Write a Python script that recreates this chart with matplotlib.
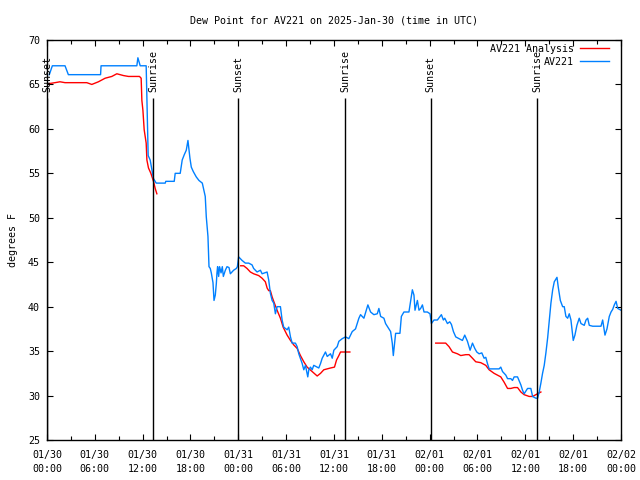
import pandas as pd
import numpy as np
import matplotlib
matplotlib.use('Agg')
import matplotlib.pyplot as plt
import matplotlib.dates as mdates

plt.rcParams['font.family'] = 'DejaVu Sans Mono'
plt.rcParams['font.size'] = 7.2

start = pd.Timestamp('2025-01-30 00:00')

# observed dew point (hours since start, deg F)
obs_hours = [0.29, 0.67, 2.26, 2.68, 6.72, 6.78, 11.27, 11.40, 11.60, 11.69, 12.44, 12.53, 12.60,
             12.69, 12.94, 13.36, 13.70, 14.83, 14.90, 15.96, 16.08, 16.71, 16.96, 17.22, 17.47,
             17.68, 17.93, 18.10, 18.35, 18.72, 19.06, 19.48, 19.73, 19.85, 19.98, 20.19, 20.32,
             20.48, 20.61, 20.82, 20.90, 20.95, 21.11, 21.24, 21.32, 21.40, 21.53, 21.65, 21.83,
             21.99, 22.12, 22.37, 22.58, 22.83, 23.00, 23.41, 23.75, 23.88, 24.04, 24.47, 24.88,
             25.30, 25.72, 25.92, 26.35, 26.77, 26.98, 27.61, 27.81, 28.02, 28.24, 28.44, 28.65,
             28.86, 29.28, 29.49, 29.69, 30.12, 30.32, 30.54, 30.75, 31.16, 31.38, 31.58, 32.01,
             32.21, 32.42, 32.71, 32.84, 33.05, 33.26, 33.46, 34.09, 34.31, 34.52, 34.93, 35.15,
             35.56, 35.78, 35.98, 36.40, 36.61, 37.03, 37.45, 37.86, 38.29, 38.70, 39.12, 39.33,
             39.75, 40.25, 40.59, 41.00, 41.43, 41.63, 41.85, 42.26, 42.47, 42.89, 43.10, 43.31,
             43.44, 43.60, 43.73, 44.27, 44.45, 44.77, 45.40, 45.61, 45.83, 46.03, 46.16, 46.46,
             46.66, 46.87, 47.09, 47.29, 47.71, 48.04, 48.22, 48.54, 48.97, 49.47, 49.72, 49.89,
             50.23, 50.52, 50.73, 50.98, 51.27, 51.68, 52.11, 52.40, 52.74, 53.07, 53.37, 53.66,
             53.91, 54.20, 54.54, 54.83, 55.04, 55.25, 55.46, 56.71, 56.92, 57.14, 57.55, 57.77,
             58.18, 58.39, 58.60, 59.02, 59.44, 59.65, 59.85, 60.28, 60.69, 60.91, 61.32, 61.54,
             61.74, 61.95, 62.16, 62.37, 62.58, 62.80, 63.00, 63.21, 63.43, 63.63, 63.97, 64.13,
             64.39, 64.68, 64.88, 65.09, 65.31, 65.51, 65.72, 66.01, 66.22, 66.47, 66.76, 66.98,
             67.39, 67.61, 67.82, 68.02, 68.45, 69.49, 69.70, 69.99, 70.24, 70.53, 70.75, 70.96,
             71.16, 71.38, 71.59, 72.00]
obs_dewpt = [66.1, 67.1, 67.1, 66.1, 66.1, 67.1, 67.1, 68.0, 67.4, 67.1, 67.1, 63.6, 61.0,
             57.0, 56.5, 54.4, 53.9, 53.9, 54.1, 54.1, 55.0, 55.0, 56.5, 57.1, 57.6,
             58.7, 56.7, 55.7, 55.2, 54.6, 54.2, 53.9, 52.9, 52.4, 50.1, 47.9, 44.5,
             44.3, 43.8, 42.7, 41.5, 40.7, 41.3, 42.6, 43.8, 44.5, 43.4, 44.5, 43.8,
             44.5, 43.4, 44.1, 44.5, 44.4, 43.7, 44.1, 44.3, 44.5, 45.6, 45.2, 44.9,
             44.9, 44.7, 44.3, 43.9, 44.1, 43.7, 43.9, 43.0, 41.5, 40.7, 40.4, 39.2,
             40.0, 40.0, 38.5, 37.7, 37.4, 37.7, 36.6, 35.9, 35.9, 35.5, 34.7, 33.6,
             32.9, 33.4, 32.1, 32.9, 33.2, 32.9, 33.4, 33.1, 33.6, 34.2, 34.9, 34.4,
             34.7, 34.2, 35.1, 35.5, 36.1, 36.4, 36.6, 36.4, 37.2, 37.5, 38.7, 39.1,
             38.7, 40.2, 39.4, 39.1, 39.2, 39.8, 38.9, 38.7, 38.1, 37.5, 37.2, 35.9,
             34.5, 35.9, 37.0, 37.0, 38.9, 39.4, 39.4, 40.6, 41.9, 41.3, 39.6, 40.7,
             39.6, 39.8, 40.2, 39.4, 39.4, 39.2, 38.1, 38.5, 38.5, 39.1, 38.5, 38.7,
             38.1, 38.3, 38.0, 37.2, 36.6, 36.4, 36.2, 36.8, 36.1, 35.1, 35.9, 35.3,
             34.9, 34.7, 34.8, 34.2, 34.3, 33.6, 33.0, 33.0, 33.2, 32.7, 32.3, 31.9,
             31.9, 31.7, 32.1, 32.1, 31.2, 30.6, 30.2, 30.8, 30.8, 29.9, 29.7, 29.7,
             30.4, 31.4, 32.5, 33.4, 34.8, 36.5, 38.4, 40.4, 41.9, 42.8, 43.3, 42.2,
             40.7, 40.0, 40.0, 38.9, 38.7, 39.2, 38.5, 36.2, 36.8, 37.9, 38.7, 38.1,
             37.9, 38.5, 38.7, 37.9, 37.8, 37.8, 38.5, 36.8, 37.5, 38.9, 39.4, 39.7,
             40.2, 40.6, 39.8, 39.6]

# analysis dew point, three separate runs
ana1_hours = [0.29, 1.01, 1.63, 2.26, 4.99, 5.62, 6.45, 7.29, 8.13, 8.76, 9.59, 10.22, 11.06,
              11.60, 11.81, 11.90, 12.03, 12.19, 12.44, 12.53, 12.73, 13.03, 13.36, 13.57, 13.78]
ana1_dewpt = [65.1, 65.2, 65.3, 65.2, 65.2, 65.0, 65.3, 65.7, 65.9, 66.2, 66.0, 65.9, 65.9,
              65.9, 65.7, 63.2, 62.1, 59.9, 58.4, 56.5, 55.6, 55.0, 54.1, 53.3, 52.7]
ana2_hours = [24.30, 24.67, 25.09, 25.51, 25.92, 26.55, 26.98, 27.39, 27.61, 27.81, 28.02, 28.24,
              28.44, 28.86, 29.28, 29.62, 30.12, 30.54, 30.95, 31.38, 31.79, 32.21, 32.63, 33.26,
              33.89, 34.31, 34.72, 35.56, 36.06, 36.32, 36.61, 36.82, 37.99]
ana2_dewpt = [44.6, 44.6, 44.3, 43.9, 43.7, 43.5, 43.2, 42.8, 42.1, 41.8, 41.8, 41.1,
              40.6, 39.6, 38.7, 37.7, 36.8, 36.2, 35.7, 35.3, 34.5, 33.8, 33.2, 32.7,
              32.2, 32.5, 32.9, 33.1, 33.2, 34.0, 34.5, 34.9, 34.9]
ana3_hours = [48.76, 50.01, 50.43, 50.86, 51.48, 51.90, 52.53, 52.94, 53.37, 53.78, 54.41, 55.04,
              55.46, 56.08, 56.92, 57.34, 57.77, 58.18, 58.60, 59.02, 59.44, 59.85, 60.48, 60.91,
              61.32, 61.74, 61.95]
ana3_dewpt = [35.9, 35.9, 35.5, 34.9, 34.7, 34.5, 34.6, 34.6, 34.2, 33.8, 33.7, 33.4,
              32.9, 32.5, 32.1, 31.5, 30.8, 30.8, 30.9, 30.9, 30.4, 30.1, 29.9, 29.9,
              30.1, 30.3, 30.4]

sun_hours = [0.0, 13.32, 23.99, 37.44, 48.12, 61.50]
sun_names = ['Sunset', 'Sunrise', 'Sunset', 'Sunrise', 'Sunset', 'Sunrise']


def to_time(h):
    return start + pd.to_timedelta(np.array(h), unit='h')


red = '#ff0000'
blue = '#0080ff'

fig = plt.figure(figsize=(6.4, 4.8), dpi=100)
ax = fig.add_axes([47 / 640, 40 / 480, 574 / 640, 400 / 480])

ax.plot(to_time(ana1_hours), ana1_dewpt, color=red, lw=1.0, label='AV221 Analysis')
ax.plot(to_time(ana2_hours), ana2_dewpt, color=red, lw=1.0)
ax.plot(to_time(ana3_hours), ana3_dewpt, color=red, lw=1.0)
ax.plot(to_time(obs_hours), obs_dewpt, color=blue, lw=1.0, label='AV221')

for h, name in zip(sun_hours, sun_names):
    t = to_time([h])[0]
    ax.vlines(t, 25, 63.5, color='black', lw=1.0)
    ax.text(t, 64.2, name, rotation=90, ha='center', va='bottom', clip_on=False)

ax.set_xlim(start, start + pd.Timedelta(hours=72))
ax.set_ylim(25, 70)
ax.set_yticks(np.arange(25, 71, 5))
ax.xaxis.set_major_locator(mdates.HourLocator(byhour=[0, 6, 12, 18]))
ax.xaxis.set_minor_locator(mdates.HourLocator(byhour=range(0, 24, 3)))
ax.xaxis.set_major_formatter(mdates.DateFormatter('%m/%d\n%H:%M'))
ax.tick_params(which='both', direction='in', top=True, right=True, width=0.8)
ax.tick_params(which='major', length=4, pad=7)
ax.tick_params(which='minor', length=3)
ax.tick_params(axis='y', pad=5)
for lab in ax.get_xticklabels():
    lab.set_linespacing(1.5)
for s in ax.spines.values():
    s.set_linewidth(1.0)

ax.set_ylabel('degrees F', labelpad=7)
ax.set_title('Dew Point for AV221 on 2025-Jan-30 (time in UTC)', fontsize=7.2, pad=12)

leg = ax.legend(loc='upper right', frameon=False, markerfirst=False, handlelength=2.9,
                borderaxespad=0.0, borderpad=0.0, labelspacing=0.3, handletextpad=0.6,
                bbox_to_anchor=(0.979, 0.99))

fig.savefig('out.png', dpi=100)
